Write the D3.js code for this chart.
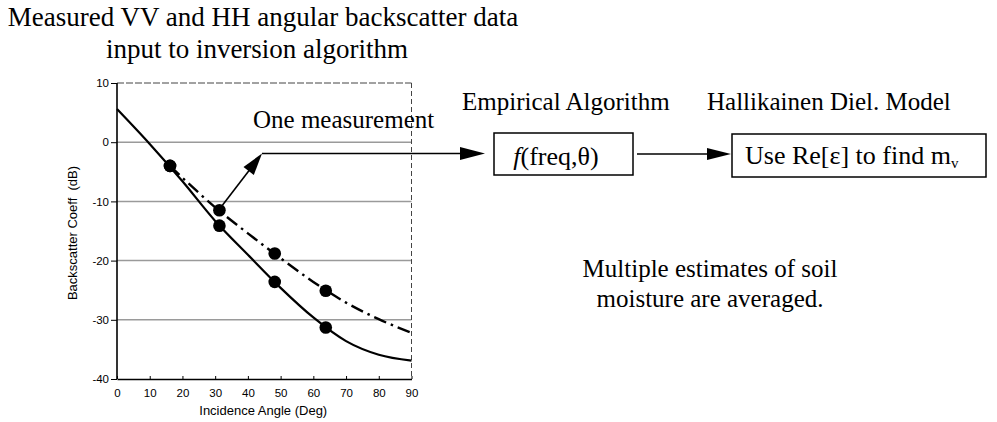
<!DOCTYPE html>
<html>
<head>
<meta charset="utf-8">
<script src="https://cdn.jsdelivr.net/npm/d3@7"></script>
<style>
  body { margin: 0; background: #fff; }
  svg { display: block; }
</style>
</head>
<body>
<svg id="chart" width="997" height="422"></svg>
<script>
// Axis ticks
const xTicks = [0, 10, 20, 30, 40, 50, 60, 70, 80, 90];
const yTicks = [10, 0, -10, -20, -30, -40];

// Fitted HH curve (solid), backscatter in dB vs incidence angle
const hhCurveAngles = [0, 10, 20, 30, 40, 50, 60, 70, 80, 90];
const hhCurveValues = [5.6, -0.3, -6.6, -13.3, -19.0, -24.6, -29.6, -33.6, -35.9, -36.9];

// Fitted VV curve (dash-dot)
const vvCurveAngles = [16.2, 20, 30, 40, 50, 60, 70, 80, 90];
const vvCurveValues = [-4.0, -6.0, -11.0, -15.4, -19.6, -23.6, -27.1, -29.9, -32.2];

// Measured backscatter samples
const measAngles = [16.2, 31.3, 48.2, 63.8];
const hhMeasured = [-4.0, -14.1, -23.6, -31.3];
const vvMeasured = [-4.0, -11.5, -18.8, -25.1];

const svg = d3.select("#chart");
svg.append("rect").attr("width", 997).attr("height", 422).attr("fill", "#fff");

const serif = "'Liberation Serif', 'Times New Roman', serif";
const sans = "'Liberation Sans', Arial, Helvetica, sans-serif";

const x = d3.scaleLinear().domain([0, 90]).range([117, 411.5]);
const y = d3.scaleLinear().domain([-40, 10]).range([379, 83]);

// Horizontal grid
const grid = svg.append("g");
grid.selectAll("line.g")
  .data(yTicks.filter(v => v > -40 && v < 10))
  .join("line")
  .attr("x1", x(0)).attr("x2", x(90))
  .attr("y1", d => y(d)).attr("y2", d => y(d))
  .attr("stroke", "#9a9a9a").attr("stroke-width", 1.5);
grid.append("line")
  .attr("x1", x(0)).attr("x2", x(90))
  .attr("y1", y(10)).attr("y2", y(10))
  .attr("stroke", "#444").attr("stroke-width", 1)
  .attr("stroke-dasharray", "7,2");
grid.append("line")
  .attr("x1", x(90)).attr("x2", x(90))
  .attr("y1", y(10)).attr("y2", y(-40))
  .attr("stroke", "#444").attr("stroke-width", 1)
  .attr("stroke-dasharray", "5,3");

// Axes
const yAxis = svg.append("g")
  .attr("transform", `translate(${x(0)},0)`)
  .call(d3.axisLeft(y).tickValues(yTicks).tickSize(6).tickPadding(2).tickFormat(d => String(d)));
const xAxis = svg.append("g")
  .attr("transform", `translate(0,${y(-40)})`)
  .call(d3.axisBottom(x).tickValues(xTicks).tickSizeInner(-3).tickSizeOuter(0).tickPadding(10));

[yAxis, xAxis].forEach(a => {
  a.select(".domain").attr("stroke", "#000").attr("stroke-width", 1.6);
  a.selectAll(".tick line").attr("stroke", "#000").attr("stroke-width", 1);
  a.selectAll(".tick text").attr("font-family", sans).attr("font-size", 11.5).attr("fill", "#000");
});
yAxis.select(".domain").attr("d", `M0,${y(10)}V${y(-40)}`);

// Axis titles
svg.append("text")
  .attr("x", (x(0) + x(90)) / 2 - 1).attr("y", 415)
  .attr("text-anchor", "middle")
  .attr("font-family", sans).attr("font-size", 13)
  .text("Incidence Angle (Deg)");
svg.append("text")
  .attr("transform", `translate(77,${(y(10) + y(-40)) / 2 + 2}) rotate(-90)`)
  .attr("text-anchor", "middle")
  .attr("font-family", sans).attr("font-size", 13)
  .attr("xml:space", "preserve")
  .text("Backscatter Coeff  (dB)");

// Curves
const line = d3.line().x(d => x(d[0])).y(d => y(d[1])).curve(d3.curveMonotoneX);
svg.append("path")
  .datum(d3.zip(hhCurveAngles, hhCurveValues))
  .attr("d", line)
  .attr("fill", "none").attr("stroke", "#000").attr("stroke-width", 2.2);
svg.append("path")
  .datum(d3.zip(vvCurveAngles, vvCurveValues))
  .attr("d", line)
  .attr("fill", "none").attr("stroke", "#000").attr("stroke-width", 2.4)
  .attr("stroke-dasharray", "13,5,2.5,5");

// Measured points
const pts = d3.zip(measAngles, hhMeasured).concat(d3.zip(measAngles, vvMeasured));
svg.append("g").selectAll("circle")
  .data(pts)
  .join("circle")
  .attr("cx", d => x(d[0])).attr("cy", d => y(d[1]))
  .attr("r", 6.3).attr("fill", "#000");

// Arrow helper: line with filled triangular head at (x2,y2)
function arrow(x1, y1, x2, y2, len, half) {
  const dx = x2 - x1, dy = y2 - y1, L = Math.hypot(dx, dy);
  const ux = dx / L, uy = dy / L;
  const bx = x2 - ux * len, by = y2 - uy * len;
  svg.append("line")
    .attr("x1", x1).attr("y1", y1).attr("x2", bx + ux * 2).attr("y2", by + uy * 2)
    .attr("stroke", "#000").attr("stroke-width", 1.6);
  svg.append("path")
    .attr("d", `M${x2},${y2}L${bx - uy * half},${by + ux * half}L${bx + uy * half},${by - ux * half}Z`)
    .attr("fill", "#000");
}

// Annotation from the VV sample at the second angle
const ax0 = x(measAngles[1]) + 3, ay0 = y(vvMeasured[1]) - 5;
const corner = [262, 153.5];
arrow(ax0, ay0, corner[0], corner[1], 22, 6.5);
arrow(corner[0], corner[1], 485, 153.5, 25, 6.5);
arrow(637, 154, 731, 154, 24, 6);

// Boxes
svg.append("rect").attr("x", 494).attr("y", 133).attr("width", 139).attr("height", 42)
  .attr("fill", "none").attr("stroke", "#000").attr("stroke-width", 1.5);
svg.append("rect").attr("x", 732).attr("y", 134).attr("width", 254).attr("height", 43)
  .attr("fill", "none").attr("stroke", "#000").attr("stroke-width", 1.5);

// Text
function label(tx, ty, str, size, anchor = "start") {
  return svg.append("text").attr("x", tx).attr("y", ty)
    .attr("font-family", serif).attr("font-size", size)
    .attr("text-anchor", anchor).attr("fill", "#000").text(str);
}
label(263, 26, "Measured VV and HH angular backscatter data", 27, "middle");
label(257, 58, "input to inversion algorithm", 27, "middle");
label(253, 128, "One measurement", 25);
label(462, 110, "Empirical Algorithm", 25);
label(707, 110, "Hallikainen Diel. Model", 25);

const f = svg.append("text").attr("x", 556).attr("y", 165)
  .attr("font-family", serif).attr("font-size", 26).attr("text-anchor", "middle");
f.append("tspan").attr("font-style", "italic").text("f");
f.append("tspan").text("(freq,θ)");

const u = svg.append("text").attr("x", 745).attr("y", 164)
  .attr("font-family", serif).attr("font-size", 26);
u.append("tspan").text("Use Re[ε] to find m");
u.append("tspan").attr("font-size", 15).attr("dy", 4).text("v");

label(710, 277, "Multiple estimates of soil", 25, "middle");
label(710, 307, "moisture are averaged.", 25, "middle");
</script>
</body>
</html>
